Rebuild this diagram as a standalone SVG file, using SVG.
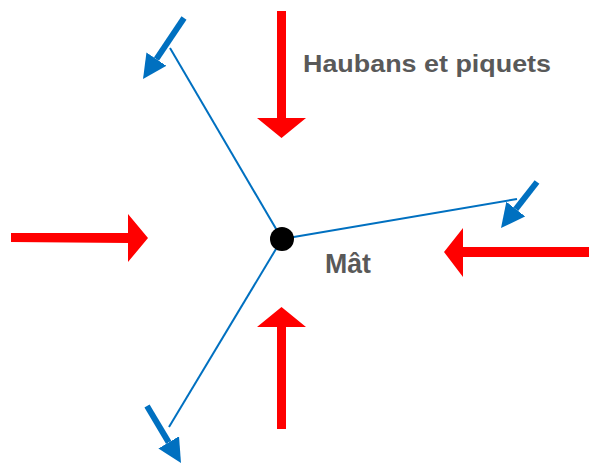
<svg xmlns="http://www.w3.org/2000/svg" width="589" height="464" viewBox="0 0 589 464">
  <style>
    .red { fill: #FF0000; }
    .guy { stroke: #0070C0; stroke-width: 2; fill: none; }
    .barrow { stroke: #0070C0; stroke-width: 6; fill: none; marker-end: url(#bh); }
    .lbl { font-family: "Liberation Sans", Arial, sans-serif; font-weight: bold; font-size: 24px; fill: #595959; }
  </style>
  <defs>
    <marker id="bh" viewBox="0 0 24 24" markerWidth="24" markerHeight="24" markerUnits="userSpaceOnUse" refX="0" refY="12" orient="auto">
      <path d="M0,0 L24,12 L0,24 z" fill="#0070C0"/>
    </marker>
  </defs>
  <g id="connectors">
    <line class="guy" x1="282" y1="239" x2="170" y2="48"/>
    <line class="guy" x1="282" y1="239" x2="517" y2="199"/>
    <line class="guy" x1="282" y1="239" x2="169" y2="427"/>
  </g>
  <g id="wind-top">
    <polygon class="red" points="277,11 286,11 286,118 306,118 281.5,138 257,118 277,118"/>
  </g>
  <g id="wind-left">
    <polygon class="red" points="11,233 128,233 128,214 148,238 128,262 128,243 11,242"/>
  </g>
  <g id="wind-right">
    <polygon class="red" points="589,247 463,247 463,228 444,252 463,277 463,257 589,257"/>
  </g>
  <g id="wind-bottom">
    <polygon class="red" points="277,429 286,429 286,327 306,327 281.5,307 257,327 277,327"/>
  </g>
  <g id="stake-topleft">
    <line class="barrow" x1="184" y1="18" x2="156.4" y2="59.1"/>
  </g>
  <g id="stake-right">
    <line class="barrow" x1="537" y1="182" x2="515.8" y2="209.1"/>
  </g>
  <g id="stake-bottom">
    <line class="barrow" x1="147" y1="406" x2="168.7" y2="442.4"/>
  </g>
  <g id="mast">
    <circle cx="282" cy="239" r="12" fill="#000000"/>
    <text class="lbl" x="325" y="273" font-size="28" textLength="46" lengthAdjust="spacingAndGlyphs" style="font-size:28px">Mât</text>
  </g>
  <g id="label-haubans">
    <text class="lbl" x="303" y="72" textLength="248" lengthAdjust="spacingAndGlyphs">Haubans et piquets</text>
  </g>
</svg>
